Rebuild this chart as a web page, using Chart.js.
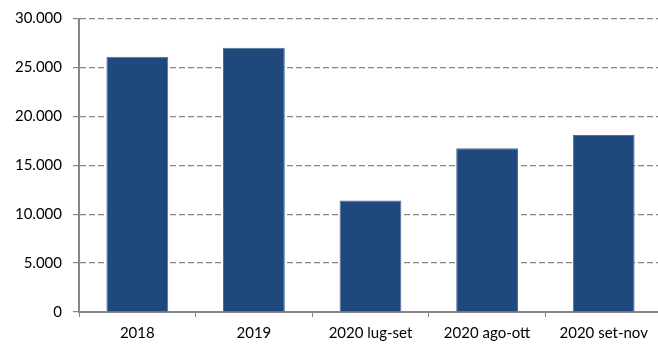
<!DOCTYPE html>
<html>
<head>
<meta charset="utf-8">
<script src="https://cdn.jsdelivr.net/npm/chart.js@4/dist/chart.umd.min.js"></script>
<style>
  html, body { margin: 0; padding: 0; background: #fff; overflow: hidden; }
  #wrap { width: 662px; height: 347px; }
</style>
</head>
<body>
<div id="wrap"><canvas id="chart"></canvas></div>
<script>
const categories = ['2018', '2019', '2020 lug-set', '2020 ago-ott', '2020 set-nov'];
const values = [26100, 27000, 11400, 16750, 18100];
const yTicks = [0, 5000, 10000, 15000, 20000, 25000, 30000];

const BAR_BLUE = '#1f497d';
const AXIS_GREY = '#868686';

// separatore delle migliaia all'italiana
function fmt(v) {
    return String(v).replace(/\B(?=(\d{3})+(?!\d))/g, '.');
}

const ctx = document.getElementById('chart').getContext('2d');
new Chart(ctx, {
    type: 'bar',
    data: {
        labels: categories,
        datasets: [{
            data: values,
            backgroundColor: BAR_BLUE,
            borderColor: '#4d6f99',
            borderWidth: 1,
            categoryPercentage: 1,
            barPercentage: 0.53
        }]
    },
    options: {
        responsive: true,
        maintainAspectRatio: false,
        animation: false,
        layout: { padding: { top: 8, right: 0, left: 0, bottom: 0 } },
        plugins: { legend: { display: false }, tooltip: { enabled: false } },
        scales: {
            x: {
                grid: { display: true, drawOnChartArea: false, color: AXIS_GREY, tickLength: 5, offset: true },
                border: { color: AXIS_GREY, width: 2 },
                ticks: { color: '#000', font: { family: 'Lato', size: 15 }, padding: 7, maxRotation: 0 },
                afterFit: s => { s.height = 35; }
            },
            y: {
                min: 0,
                max: 30000,
                afterBuildTicks: s => { s.ticks = yTicks.map(v => ({ value: v })); },
                grid: { color: AXIS_GREY, tickLength: 6, lineWidth: 1.2 },
                border: { color: AXIS_GREY, width: 2, dash: [6, 3] },
                ticks: {
                    color: '#000',
                    font: { family: 'Lato', size: 15, lineHeight: 1 },
                    padding: 11,
                    callback: v => fmt(v)
                },
                afterFit: s => { s.width = 79; }
            }
        }
    }
});
</script>
</body>
</html>
